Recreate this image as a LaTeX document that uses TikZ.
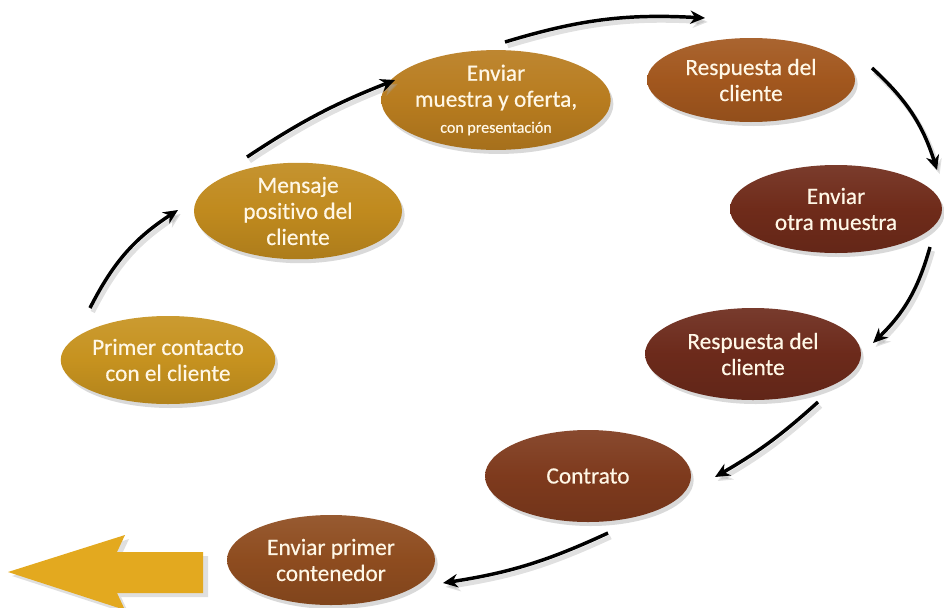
\documentclass[tikz,border=0pt]{standalone}
\usepackage{fontspec}
\setmainfont{Carlito}[Ligatures=NoCommon, FakeBold=0.4]
\usetikzlibrary{shapes.geometric,arrows.meta,shadows}
\definecolor{cA}{HTML}{C6921F}
\definecolor{cB}{HTML}{C08A1E}
\definecolor{cC}{HTML}{B87C1F}
\definecolor{cD}{HTML}{A2571E}
\definecolor{cE}{HTML}{6F2B1A}
\definecolor{cF}{HTML}{6C2A1B}
\definecolor{cG}{HTML}{7E3A1D}
\definecolor{cH}{HTML}{8E4C1F}
\definecolor{bigarrow}{HTML}{E3A91F}
\definecolor{txt}{HTML}{FFF7E6}
\tikzset{
  ell/.style n args={3}{ellipse, inner sep=0pt, align=center,
    minimum width=#1*1.5pt, minimum height=#2*1.5pt,
    top color=#3!92!white, bottom color=#3!90!black, middle color=#3,
    text=txt, font=\fontsize{17.5}{19.5}\selectfont,
    drop shadow={shadow xshift=2pt, shadow yshift=-3pt, opacity=0.25, fill=black!60}},
  flow/.style={line width=2.6pt, -{Stealth[length=11pt,width=10pt]},
    preaction={draw=black!35, opacity=0.35, line width=3.5pt,
      transform canvas={shift={(2pt,-3pt)}}}},
}
\begin{document}
\begin{tikzpicture}[x=0.75pt,y=-0.75pt]
\useasboundingbox (0,0) rectangle (944,607);
% big arrow
\fill[black!25, opacity=0.5] (12,576) -- (129,539) -- (121,556) -- (208,556) -- (208,597) -- (121,597) -- (129,614) -- cycle;
\fill[bigarrow] (8,572) -- (125,535) -- (117,552) -- (203,552) -- (203,593) -- (117,593) -- (125,610) -- cycle;
% nodes
\node[ell={104}{44}{cA}] (p1) at (168,360) {Primer contacto\\con el cliente};
\node[ell={104}{44}{cB}] (p2) at (298,211) {Mensaje\\positivo del\\cliente};
\node[ell={96}{47}{cC}] (p3) at (496,100) {Enviar\\muestra y oferta,\\{\fontsize{12}{14}\selectfont con presentación}};
\node[ell={104}{42}{cD}] (p4) at (751,80) {Respuesta del\\cliente};
\node[ell={106}{44}{cE}] (p5) at (836,209) {Enviar\\otra muestra};
\node[ell={108}{46}{cF}] (p6) at (753,354) {Respuesta del\\cliente};
\node[ell={103}{46}{cG}] (p7) at (588,476) {Contrato};
\node[ell={104}{45}{cH}] (p8) at (331,560) {Enviar primer\\contenedor};
% connector end points
\coordinate (a1s) at (90,308);  \coordinate (a1e) at (178,210);
\coordinate (a2s) at (247,157); \coordinate (a2e) at (395,80);
\coordinate (a3s) at (505,42);  \coordinate (a3e) at (705,18);
\coordinate (a4s) at (872,68);  \coordinate (a4e) at (937,170);
\coordinate (a5s) at (930,247); \coordinate (a5e) at (873,343);
\coordinate (a6s) at (818,402); \coordinate (a6e) at (715,477);
\coordinate (a7s) at (608,533); \coordinate (a7e) at (443,583);
\draw[flow] (a1s) to[bend left=15] (a1e);
\draw[flow] (a2s) to[bend left=6] (a2e);
\draw[flow] (a3s) to[bend left=10] (a3e);
\draw[flow] (a4s) to[bend left=15] (a4e);
\draw[flow] (a5s) to[bend left=15] (a5e);
\draw[flow] (a6s) to[bend left=6] (a6e);
\draw[flow] (a7s) to[bend left=8] (a7e);
\end{tikzpicture}
\end{document}
